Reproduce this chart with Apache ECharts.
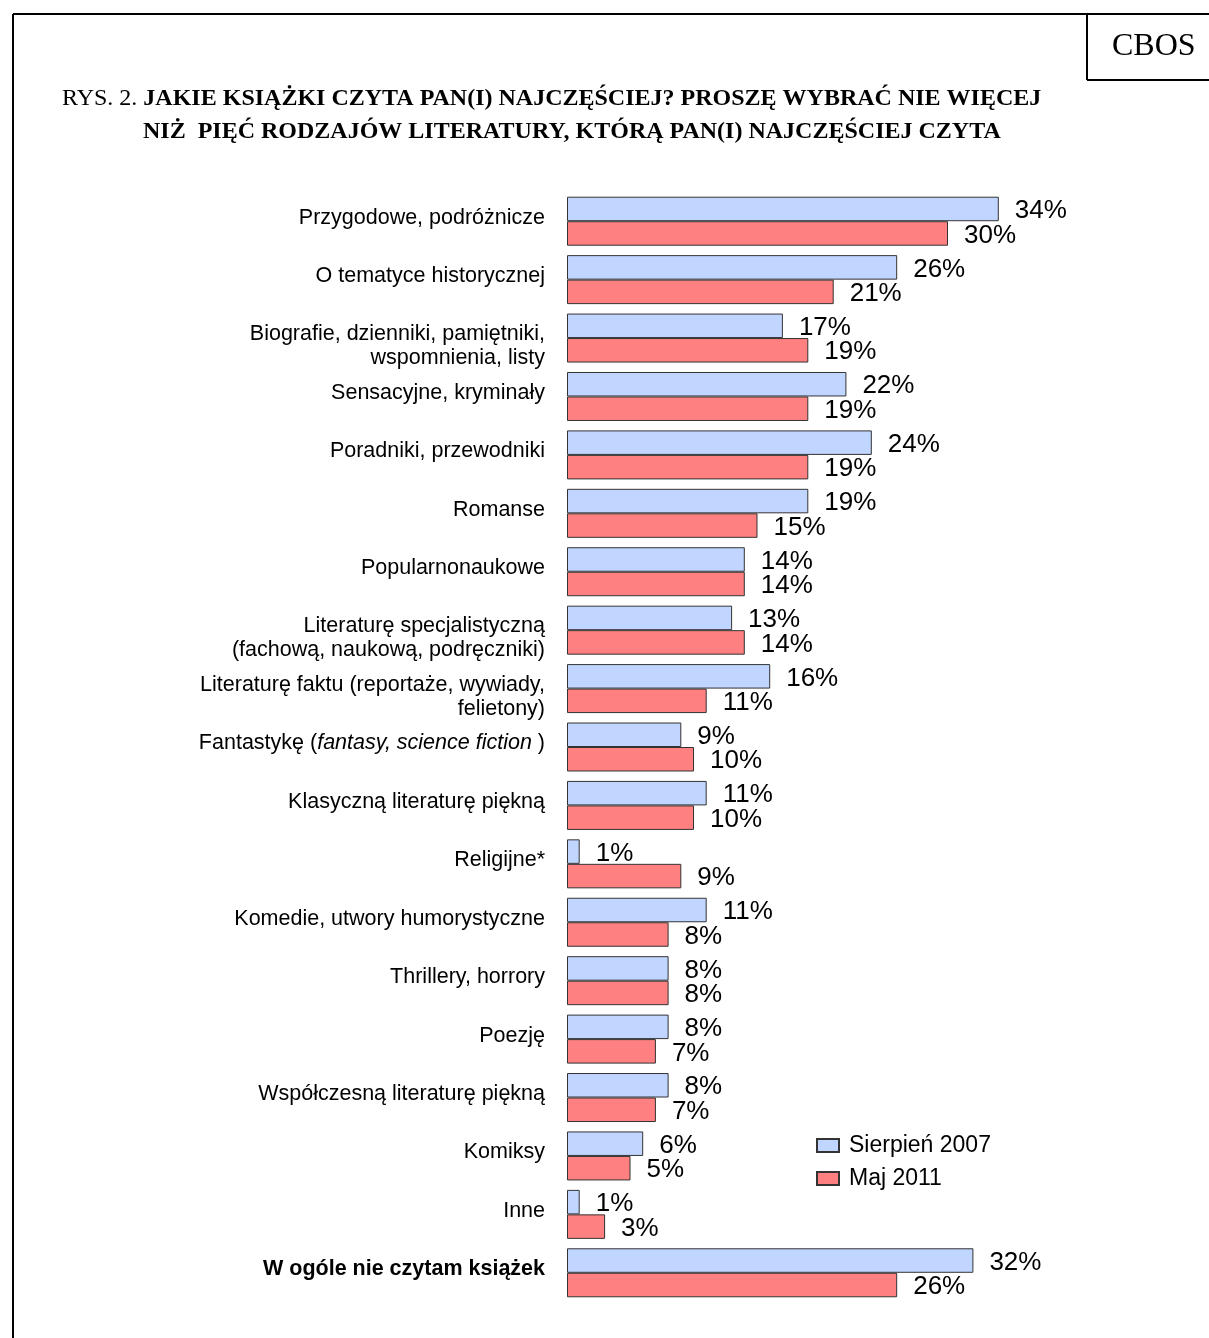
<!DOCTYPE html>
<html><head><meta charset="utf-8">
<script src="https://cdn.jsdelivr.net/npm/echarts@6/dist/echarts.min.js"></script>
<style>html,body{margin:0;padding:0;background:#fff}#c{width:1209px;height:1338px}</style>
</head><body><div id="c"></div>
<script>
const categories = [
  "Przygodowe, podróżnicze",
  "O tematyce historycznej",
  "Biografie, dzienniki, pamiętniki,\nwspomnienia, listy",
  "Sensacyjne, kryminały",
  "Poradniki, przewodniki",
  "Romanse",
  "Popularnonaukowe",
  "Literaturę specjalistyczną\n(fachową, naukową, podręczniki)",
  "Literaturę faktu (reportaże, wywiady,\nfelietony)",
  "Fantastykę (fantasy, science fiction )",
  "Klasyczną literaturę piękną",
  "Religijne*",
  "Komedie, utwory humorystyczne",
  "Thrillery, horrory",
  "Poezję",
  "Współczesną literaturę piękną",
  "Komiksy",
  "Inne",
  "W ogóle nie czytam książek"
];
const seriesNames = ["Sierpień 2007", "Maj 2011"];
const values2007 = [34,26,17,22,24,19,14,13,16,9,11,1,11,8,8,8,6,1,32];
const values2011 = [30,21,19,19,19,15,14,14,11,10,10,9,8,8,7,7,5,3,26];

const FONT = 'Liberation Sans, Arial';
const chart = echarts.init(document.getElementById('c'));
const labelStyle = {show:true, position:'right', distance:16, formatter:'{c}%', color:'#000', fontSize:26, fontFamily:FONT, offset:[0,2]};
const catData = categories.map(c => ({
  value: c,
  textStyle: c.indexOf('\n') >= 0 ? {padding:[16,0,0,0]} : {padding:[0,0,7,0]}
}));
chart.setOption({
  animation:false,
  backgroundColor:'#fff',
  grid:{left:567, top:192, width:635, height:1110, containLabel:false},
  xAxis:{type:'value', min:0, max:50, show:false},
  yAxis:{type:'category', data:catData, inverse:true,
    axisLine:{show:false}, axisTick:{show:false}, splitLine:{show:false},
    axisLabel:{margin:22, color:'#000', fontSize:21.5, fontFamily:FONT, lineHeight:24, align:'right',
      formatter:function(v){
        if (v.indexOf('Fantastykę')===0) return '{n|Fantastykę (}{i|fantasy, science fiction}{n| )}';
        if (v.indexOf('W ogóle')===0) return '{b|'+v+'}';
        return v;
      },
      rich:{
        n:{fontSize:21.5, fontFamily:FONT, color:'#000'},
        i:{fontSize:21.5, fontFamily:FONT, fontStyle:'italic', color:'#000'},
        b:{fontSize:21.5, fontFamily:FONT, fontWeight:'bold', color:'#000'}
      }
    }
  },
  legend:{orient:'vertical', left:811, top:1129, itemWidth:22, itemHeight:13, itemGap:10,
    textStyle:{fontSize:23, fontFamily:FONT, color:'#000', padding:[0,0,0,5]},
    data:seriesNames.map(n=>({name:n, icon:'rect'}))
  },
  series:[
    {name:seriesNames[0], type:'bar', data:values2007, barWidth:24.5, barGap:'0%',
      itemStyle:{color:'#C0D5FF', borderColor:'#333', borderWidth:1}, label:labelStyle},
    {name:seriesNames[1], type:'bar', data:values2011, barWidth:24.5, barGap:'0%',
      itemStyle:{color:'#FF8080', borderColor:'#333', borderWidth:1}, label:labelStyle}
  ],
  graphic:[
    {type:'line', shape:{x1:13,y1:14,x2:1209,y2:14}, style:{stroke:'#000', lineWidth:2}},
    {type:'line', shape:{x1:13,y1:14,x2:13,y2:1338}, style:{stroke:'#000', lineWidth:2}},
    {type:'line', shape:{x1:1087,y1:14,x2:1087,y2:80}, style:{stroke:'#000', lineWidth:2}},
    {type:'line', shape:{x1:1087,y1:80,x2:1209,y2:80}, style:{stroke:'#000', lineWidth:2}},
    {type:'text', left:1112, top:31, style:{text:'CBOS', font:'32px "Liberation Serif", "Times New Roman"', fill:'#000'}},
    {type:'text', left:62, top:87, style:{text:'{n|RYS. 2. }{b|JAKIE KSIĄŻKI CZYTA PAN(I) NAJCZĘŚCIEJ? PROSZĘ WYBRAĆ NIE WIĘCEJ}',
      rich:{n:{font:'24px "Liberation Serif", "Times New Roman"', fill:'#000'}, b:{font:'bold 24px "Liberation Serif", "Times New Roman"', fill:'#000'}}}},
    {type:'text', left:143, top:120, style:{text:'NIŻ  PIĘĆ RODZAJÓW LITERATURY, KTÓRĄ PAN(I) NAJCZĘŚCIEJ CZYTA',
      font:'bold 24px "Liberation Serif", "Times New Roman"', fill:'#000'}}
  ]
});
</script></body></html>
